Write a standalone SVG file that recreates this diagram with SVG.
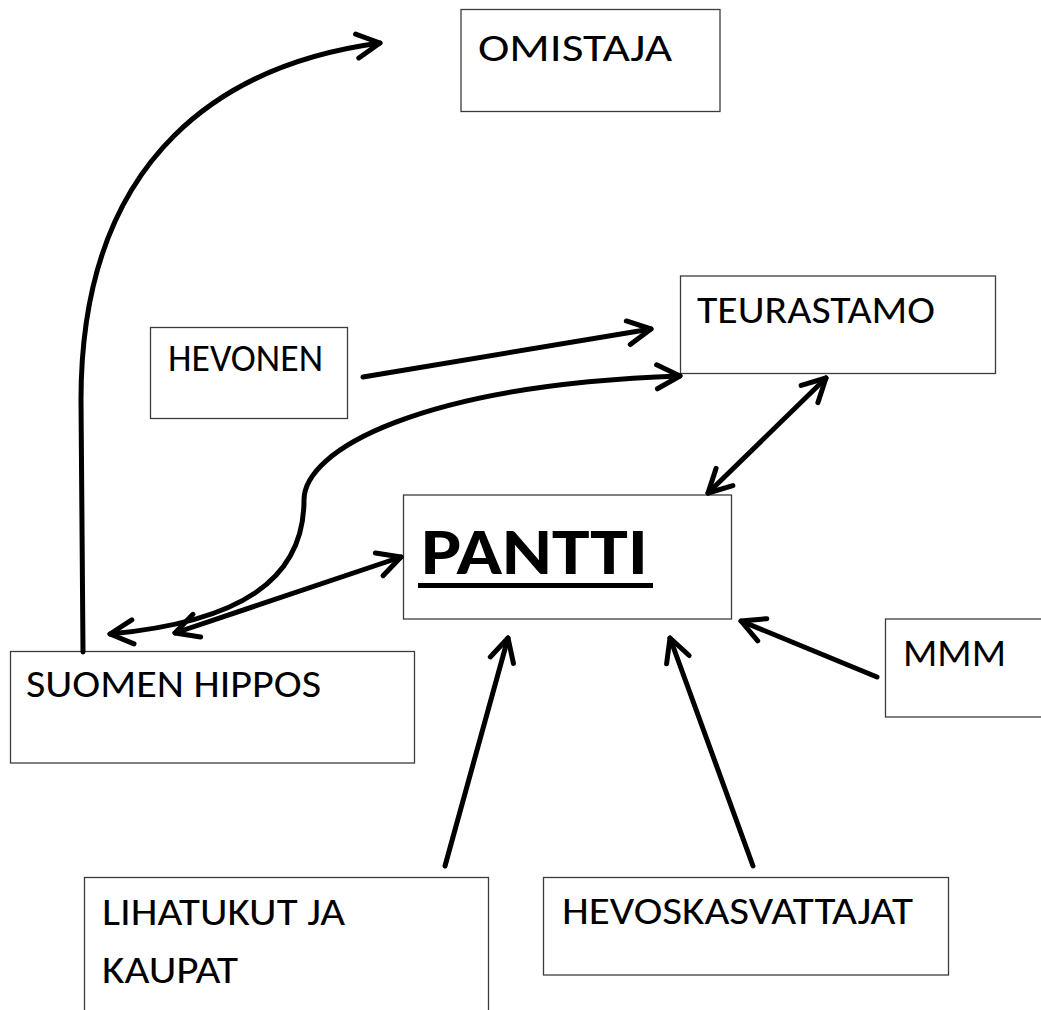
<svg xmlns="http://www.w3.org/2000/svg" width="1041" height="1010" viewBox="0 0 1041 1010">
<style>
.box{fill:#fff;stroke:#3c3c3c;stroke-width:1.3}
.lbl{font-family:Carlito,"Open Sans","Liberation Sans",sans-serif;font-size:38px;fill:#000}
.big{font-family:Carlito,"Open Sans","Liberation Sans",sans-serif;font-size:66px;font-weight:bold;fill:#000}
.con{fill:none;stroke:#000;stroke-width:5;stroke-linecap:round;stroke-linejoin:round}
</style>
<defs>
<marker id="ah" markerUnits="userSpaceOnUse" viewBox="-30 -20 40 40" markerWidth="40" markerHeight="40" refX="0" refY="0" orient="auto-start-reverse" overflow="visible">
<path d="M -23 -12 L 0 0 L -23 12" fill="none" stroke="#000" stroke-width="5" stroke-linecap="round" stroke-linejoin="round"/>
</marker>
</defs>
<rect width="1041" height="1010" fill="#fff"/>

<g id="omistaja">
<rect class="box" x="461" y="9.5" width="259" height="102"/>
<text class="lbl" x="478" y="61" textLength="194" lengthAdjust="spacingAndGlyphs">OMISTAJA</text>
</g>
<g id="hevonen">
<rect class="box" x="150.5" y="327.5" width="197" height="91"/>
<text class="lbl" x="168" y="371" textLength="155" lengthAdjust="spacingAndGlyphs">HEVONEN</text>
</g>
<g id="teurastamo">
<rect class="box" x="680.5" y="276" width="315" height="97.5"/>
<text class="lbl" x="697" y="323" textLength="238" lengthAdjust="spacingAndGlyphs">TEURASTAMO</text>
</g>
<g id="pantti">
<rect class="box" x="403.5" y="495" width="328" height="124"/>
<text class="big" x="421" y="574" textLength="227" lengthAdjust="spacingAndGlyphs">PANTTI</text>
<rect x="418" y="583" width="235" height="5" fill="#000"/>
</g>
<g id="mmm">
<rect class="box" x="885.5" y="619" width="160" height="98"/>
<text class="lbl" x="903" y="666" textLength="103" lengthAdjust="spacingAndGlyphs">MMM</text>
</g>
<g id="suomen-hippos">
<rect class="box" x="10.5" y="651.5" width="404" height="111.5"/>
<text class="lbl" x="26" y="697" textLength="295" lengthAdjust="spacingAndGlyphs">SUOMEN HIPPOS</text>
</g>
<g id="lihatukut">
<rect class="box" x="84.5" y="877.5" width="404" height="150"/>
<text class="lbl" x="102" y="925" textLength="243" lengthAdjust="spacingAndGlyphs">LIHATUKUT JA</text>
<text class="lbl" x="102" y="983" textLength="136" lengthAdjust="spacingAndGlyphs">KAUPAT</text>
</g>
<g id="hevoskasvattajat">
<rect class="box" x="543.5" y="877.5" width="405" height="97.5"/>
<text class="lbl" x="562" y="924" textLength="351" lengthAdjust="spacingAndGlyphs">HEVOSKASVATTAJAT</text>
</g>

<g id="connectors">
<path class="con" d="M 83 652 L 81 400 C 81 150, 231 63, 380 43" marker-end="url(#ah)"/>
<path class="con" d="M 363 377 L 651 329" marker-end="url(#ah)"/>
<path class="con" d="M 110 634 C 240 622, 304 580, 304 500 C 304 450, 420 385, 680 376" marker-start="url(#ah)" marker-end="url(#ah)"/>
<path class="con" d="M 175 633 L 401 557" marker-start="url(#ah)" marker-end="url(#ah)"/>
<path class="con" d="M 708 493 L 826 378" marker-start="url(#ah)" marker-end="url(#ah)"/>
<path class="con" d="M 877 677 L 741 621" marker-end="url(#ah)"/>
<path class="con" d="M 753 866 L 670 638" marker-end="url(#ah)"/>
<path class="con" d="M 445 866 L 508 638" marker-end="url(#ah)"/>
</g>
</svg>
